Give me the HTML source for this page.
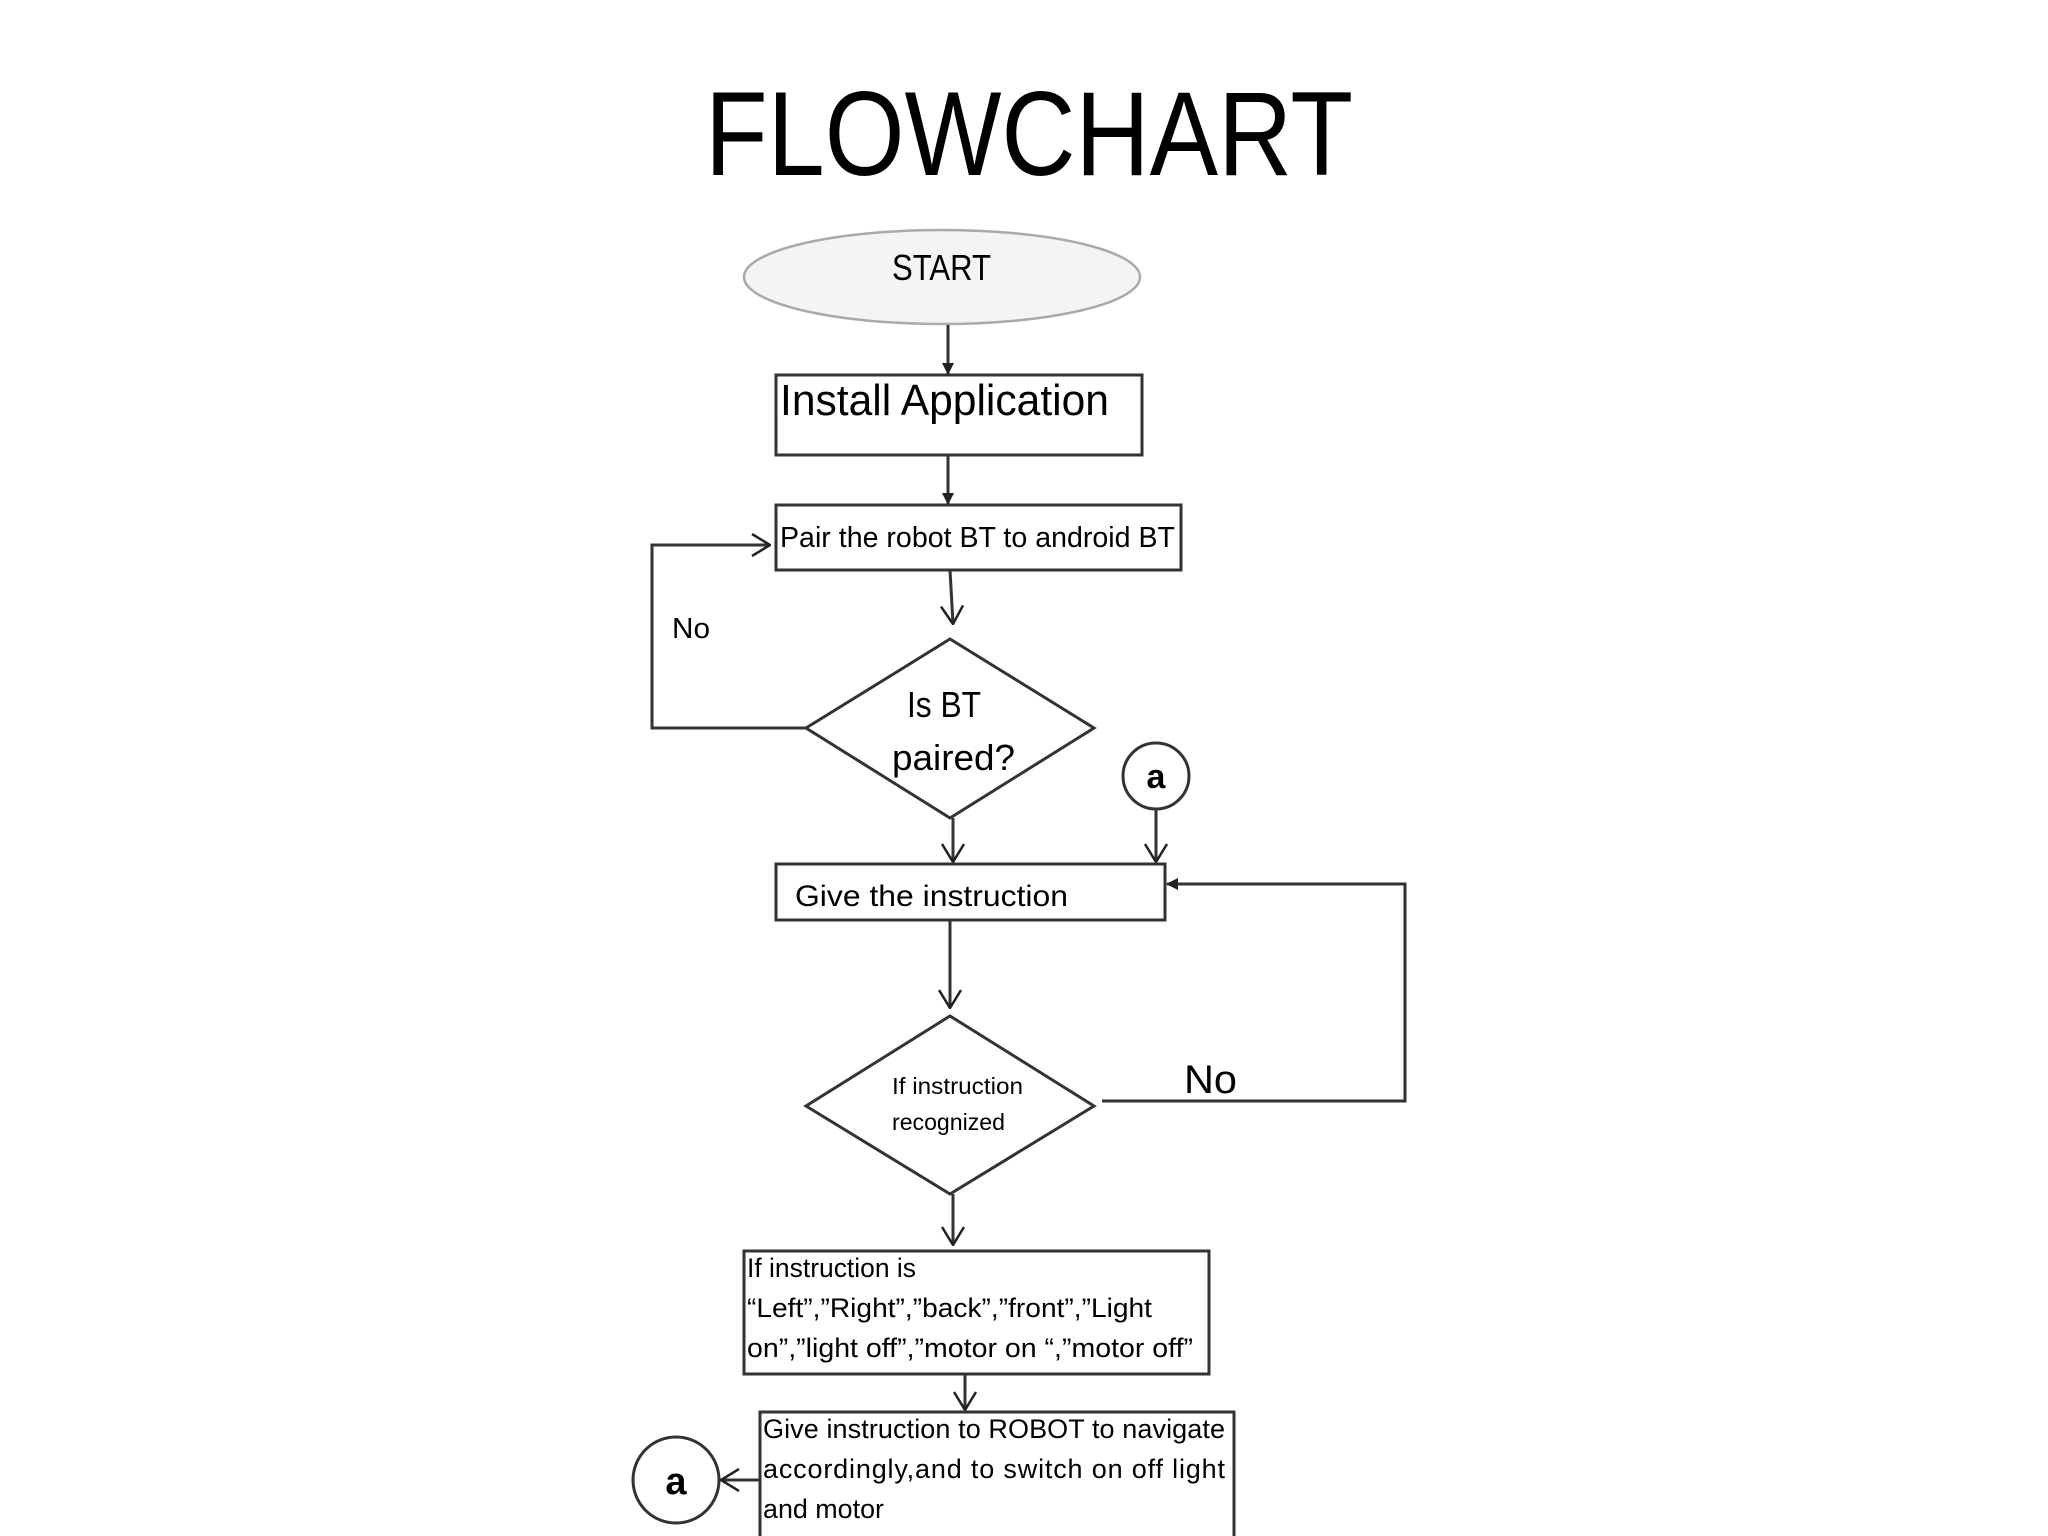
<!DOCTYPE html>
<html><head><meta charset="utf-8"><style>html,body{margin:0;padding:0;background:#fff}svg{display:block}</style></head>
<body>
<svg width="2048" height="1536" viewBox="0 0 2048 1536" xmlns="http://www.w3.org/2000/svg" font-family="Liberation Sans, sans-serif">
<defs>
<marker id="f" markerWidth="12" markerHeight="12" refX="11" refY="6" orient="auto" markerUnits="userSpaceOnUse"><path d="M0,0 L12,6 L0,12 Z" fill="#222"/></marker>
<marker id="o" markerWidth="20" markerHeight="24" refX="19" refY="12" orient="auto" markerUnits="userSpaceOnUse"><path d="M1,1 L19,12 L1,23" fill="none" stroke="#222" stroke-width="2.5"/></marker>
</defs>
<rect width="2048" height="1536" fill="#fff"/>
<text x="705" y="175" font-size="120" textLength="648" lengthAdjust="spacingAndGlyphs" fill="#000">FLOWCHART</text>
<g stroke="#333" stroke-width="3" fill="none">
<ellipse cx="942" cy="277" rx="198" ry="47" fill="#f4f4f4" stroke="#aaa" stroke-width="2.5"/>
<line x1="948" y1="325" x2="948" y2="374" marker-end="url(#f)"/>
<rect x="776" y="375" width="366" height="80"/>
<line x1="948" y1="455" x2="948" y2="504" marker-end="url(#f)"/>
<rect x="776" y="505" width="405" height="65"/>
<line x1="950" y1="570" x2="953" y2="624" marker-end="url(#o)"/>
<polygon points="950,639 1094,728 950,818 806,728"/>
<polyline points="806,728 652,728 652,545 770,545" marker-end="url(#o)"/>
<line x1="953" y1="818" x2="953" y2="862" marker-end="url(#o)"/>
<circle cx="1156" cy="776" r="33"/>
<line x1="1156" y1="809" x2="1156" y2="862" marker-end="url(#o)"/>
<rect x="776" y="864" width="389" height="56"/>
<polyline points="1102,1101 1405,1101 1405,884 1167,884" marker-end="url(#f)"/>
<line x1="950" y1="920" x2="950" y2="1008" marker-end="url(#o)"/>
<polygon points="950,1016 1094,1106 950,1194 806,1106"/>
<line x1="953" y1="1194" x2="953" y2="1245" marker-end="url(#o)"/>
<rect x="744" y="1251" width="465" height="123"/>
<line x1="965" y1="1374" x2="965" y2="1410" marker-end="url(#o)"/>
<rect x="760" y="1412" width="474" height="136"/>
<circle cx="676" cy="1480" r="43"/>
<line x1="760" y1="1480" x2="721" y2="1480" marker-end="url(#o)"/>
</g>
<g fill="#000">
<text x="892" y="280" font-size="36" textLength="99" lengthAdjust="spacingAndGlyphs">START</text>
<text x="780" y="415" font-size="44" textLength="329" lengthAdjust="spacingAndGlyphs">Install Application</text>
<text x="780" y="547" font-size="29" textLength="395" lengthAdjust="spacingAndGlyphs">Pair the robot BT to android BT</text>
<text x="672" y="638" font-size="29" textLength="38" lengthAdjust="spacingAndGlyphs">No</text>
<text x="907" y="717" font-size="36" textLength="74" lengthAdjust="spacingAndGlyphs">Is BT</text>
<text x="892" y="770" font-size="36" textLength="123" lengthAdjust="spacingAndGlyphs">paired?</text>
<text x="1156" y="788" font-size="34" font-weight="bold" text-anchor="middle">a</text>
<text x="795" y="906" font-size="30" textLength="273" lengthAdjust="spacingAndGlyphs">Give the instruction</text>
<text x="1184" y="1093" font-size="40" textLength="53" lengthAdjust="spacingAndGlyphs">No</text>
<text x="892" y="1094" font-size="23" textLength="131" lengthAdjust="spacingAndGlyphs">If instruction</text>
<text x="892" y="1130" font-size="23" textLength="113" lengthAdjust="spacingAndGlyphs">recognized</text>
<text x="747" y="1277" font-size="27" textLength="169" lengthAdjust="spacingAndGlyphs">If instruction is</text>
<text x="747" y="1317" font-size="27" textLength="405" lengthAdjust="spacingAndGlyphs">“Left”,”Right”,”back”,”front”,”Light</text>
<text x="747" y="1357" font-size="27" textLength="446" lengthAdjust="spacingAndGlyphs">on”,”light off”,”motor on “,”motor off”</text>
<text x="763" y="1438" font-size="27" textLength="462" lengthAdjust="spacing">Give instruction to ROBOT to navigate</text>
<text x="763" y="1478" font-size="27" textLength="462" lengthAdjust="spacing">accordingly,and to switch on off  light</text>
<text x="763" y="1518" font-size="27" textLength="121" lengthAdjust="spacingAndGlyphs">and motor</text>
<text x="676" y="1494" font-size="38" font-weight="bold" text-anchor="middle">a</text>
</g>
</svg>
</body></html>
